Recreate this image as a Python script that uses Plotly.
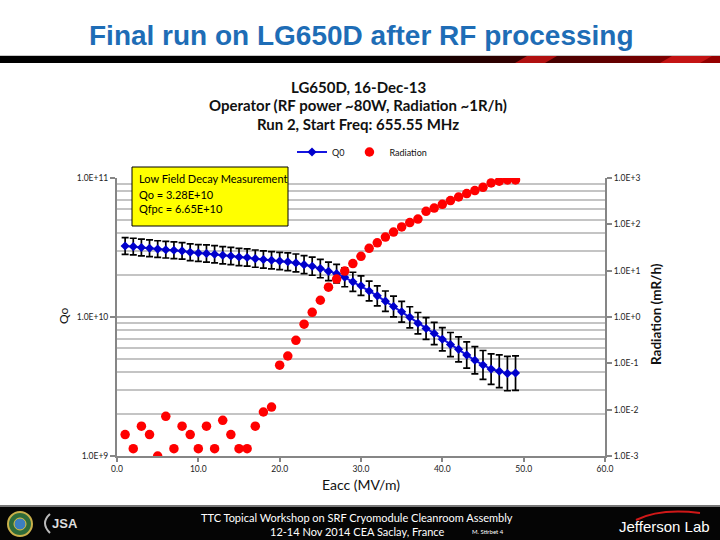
import plotly.graph_objects as go

# ---------------- data ----------------
eacc = [1, 2, 3, 4, 5, 6, 7, 8, 9, 10, 11, 12, 13, 14, 15, 16, 17, 18, 19, 20,
        21, 22, 23, 24, 25, 26, 27, 28, 29, 30, 31, 32, 33, 34, 35, 36, 37, 38, 39, 40,
        41, 42, 43, 44, 45, 46, 47, 48, 49]

q0 = [3.24e10, 3.21e10, 3.16e10, 3.12e10, 3.08e10, 3.05e10, 3.02e10, 2.99e10, 2.92e10, 2.89e10,
      2.86e10, 2.83e10, 2.78e10, 2.75e10, 2.70e10, 2.68e10, 2.63e10, 2.59e10, 2.56e10, 2.53e10,
      2.50e10, 2.45e10, 2.38e10, 2.32e10, 2.23e10, 2.13e10, 2.05e10, 1.93e10, 1.79e10, 1.68e10,
      1.54e10, 1.42e10, 1.30e10, 1.19e10, 1.09e10, 9.95e9, 9.02e9, 8.26e9, 7.60e9, 6.92e9,
      6.33e9, 5.85e9, 5.33e9, 4.88e9, 4.52e9, 4.22e9, 4.07e9, 3.92e9, 3.95e9]

# error bar half-size in decades
q0_err_dec = [0.060, 0.060, 0.060, 0.060, 0.060, 0.060, 0.060, 0.060, 0.060, 0.060,
              0.062, 0.062, 0.062, 0.062, 0.062, 0.062, 0.062, 0.062, 0.062, 0.062,
              0.064, 0.064, 0.065, 0.065, 0.066, 0.066, 0.067, 0.068, 0.069, 0.070,
              0.071, 0.072, 0.073, 0.074, 0.075, 0.076, 0.077, 0.078, 0.080, 0.084,
              0.087, 0.090, 0.094, 0.098, 0.104, 0.110, 0.118, 0.124, 0.124]

radiation = [0.0029, 0.00144, 0.0044, 0.0029, 0.0010, 0.0072, 0.00144, 0.0044, 0.0029, 0.00144,
             0.0044, 0.00144, 0.0059, 0.0029, 0.00144, 0.00144, 0.0044, 0.0089, 0.0114, 0.091,
             0.144, 0.314, 0.70, 1.26, 2.3, 4.4, 6.6, 9.8, 14.2, 20.4,
             30.4, 40.0, 53.0, 68.0, 88.0, 109.0, 130.0, 191.0, 225.0, 271.0,
             326.0, 389.0, 461.0, 535.0, 631.0, 781.0, 851.0, 906.0, 906.0]

q0_ticks = [1e9, 1e10, 1e11]
q0_ticktext = ["1.0E+9", "1.0E+10", "1.0E+11"]
rad_ticks = [1e-3, 1e-2, 1e-1, 1e0, 1e1, 1e2, 1e3]
rad_ticktext = ["1.0E-3", "1.0E-2", "1.0E-1", "1.0E+0", "1.0E+1", "1.0E+2", "1.0E+3"]
x_ticks = [0, 10, 20, 30, 40, 50, 60]

err_plus = [q * (10 ** d - 1) for q, d in zip(q0, q0_err_dec)]
err_minus = [q * (1 - 10 ** (-d)) for q, d in zip(q0, q0_err_dec)]

# ---------------- geometry helpers (pixel -> paper) ----------------
L, R, T, B = 117, 605, 178, 456
W, H = 720, 540


def px(x):
    return (x - L) / (R - L)


def py(y):
    return (B - y) / (B - T)


FONT = "Lato"
AX_GRAY = "#868686"

fig = go.Figure()

fig.add_trace(go.Scatter(
    x=eacc, y=q0, name="Q0", mode="lines+markers",
    line=dict(color="#1515E0", width=2),
    marker=dict(symbol="diamond", size=7, color="#0000CC"),
    error_y=dict(type="data", symmetric=False, array=err_plus, arrayminus=err_minus,
                 color="black", thickness=1.7, width=3.5),
    yaxis="y",
))

fig.add_trace(go.Scatter(
    x=eacc, y=radiation, name="Radiation", mode="markers",
    marker=dict(symbol="circle", size=9.5, color="#FF0000"),
    yaxis="y2",
))

shapes = []
# slide title band (black -> red)
shapes.append(dict(type="rect", xref="paper", yref="paper", x0=px(0), x1=px(W),
                   y0=py(56), y1=py(55), fillcolor="#C8C8C8", line=dict(width=0), layer="below"))
shapes.append(dict(type="rect", xref="paper", yref="paper", x0=px(0), x1=px(400),
                   y0=py(63), y1=py(56), fillcolor="#000000", line=dict(width=0), layer="below"))
n = 32
for i in range(n):
    x0 = 400 + i * (320 / n)
    x1 = x0 + 320 / n + 0.5
    t = i / (n - 1)
    r = int(0 + t * 150)
    col = "rgb(%d,%d,%d)" % (r, 0, 0)
    shapes.append(dict(type="rect", xref="paper", yref="paper", x0=px(x0), x1=px(x1),
                       y0=py(63), y1=py(56), fillcolor=col, line=dict(width=0), layer="below"))
for xa, xb, c in [(515, 545, "#B01010"), (660, 700, "#C41414")]:
    shapes.append(dict(type="path", xref="paper", yref="paper",
                       path="M %f %f L %f %f L %f %f L %f %f Z" % (
                           px(xa), py(63), px(xa + 12), py(56), px(xb + 12), py(56), px(xb), py(63)),
                       fillcolor=c, line=dict(width=0), layer="below"))

# footer
shapes.append(dict(type="rect", xref="paper", yref="paper", x0=px(0), x1=px(W),
                   y0=py(540), y1=py(506), fillcolor="#050505", line=dict(width=0), layer="below"))
shapes.append(dict(type="rect", xref="paper", yref="paper", x0=px(0), x1=px(W),
                   y0=py(507), y1=py(505), fillcolor="#777777", line=dict(width=0), layer="below"))
# DOE seal
shapes.append(dict(type="circle", xref="paper", yref="paper", x0=px(8), x1=px(32),
                   y0=py(536), y1=py(512), fillcolor="#2E6B3A", line=dict(color="#C9B04A", width=2)))
shapes.append(dict(type="circle", xref="paper", yref="paper", x0=px(14), x1=px(26),
                   y0=py(530), y1=py(518), fillcolor="#3C7FC0", line=dict(color="#E0C040", width=1)))
# JSA swoosh
shapes.append(dict(type="path", xref="paper", yref="paper",
                   path="M %f %f Q %f %f %f %f" % (px(50), py(514), px(40), py(523), px(50), py(533)),
                   line=dict(color="#BBBBBB", width=2)))
# Jefferson Lab swoosh
shapes.append(dict(type="path", xref="paper", yref="paper",
                   path="M %f %f Q %f %f %f %f" % (px(636), py(520), px(660), py(508), px(700), py(513)),
                   line=dict(color="#D01818", width=2)))

# annotation box
shapes.append(dict(type="rect", xref="paper", yref="paper", x0=px(132), x1=px(288),
                   y0=py(226), y1=py(167), fillcolor="#FFFF00", line=dict(color="black", width=1)))

annotations = []
annotations.append(dict(text="<b>Final run on LG650D after RF processing</b>", xref="paper", yref="paper",
                        x=px(361), y=py(35), xanchor="center", yanchor="middle", showarrow=False,
                        font=dict(family="Liberation Sans", size=28, color="#1E6DB6")))
for txt, yy in [("LG650D, 16-Dec-13", 87), ("Operator (RF power ~80W, Radiation ~1R/h)", 105),
                ("Run 2, Start Freq: 655.55 MHz", 124)]:
    annotations.append(dict(text="<b>" + txt + "</b>", xref="paper", yref="paper", x=px(358), y=py(yy),
                            xanchor="center", yanchor="middle", showarrow=False,
                            font=dict(family=FONT, size=15, color="#111111")))
for txt, yy in [("Low Field Decay Measurement", 178), ("Qo = 3.28E+10", 194), ("Qfpc = 6.65E+10", 208)]:
    annotations.append(dict(text=txt, xref="paper", yref="paper", x=px(137), y=py(yy),
                            xanchor="left", yanchor="middle", showarrow=False,
                            font=dict(family=FONT, size=11, color="black")))
# axis titles
annotations.append(dict(text="Eacc (MV/m)", xref="paper", yref="paper", x=px(361), y=py(484),
                        xanchor="center", yanchor="middle", showarrow=False,
                        font=dict(family=FONT, size=14, color="#111111")))
annotations.append(dict(text="Qo", xref="paper", yref="paper", x=px(63), y=py(316), textangle=-90,
                        xanchor="center", yanchor="middle", showarrow=False,
                        font=dict(family=FONT, size=12, color="#111111")))
annotations.append(dict(text="<b>Radiation (mR/h)</b>", xref="paper", yref="paper", x=px(656), y=py(314),
                        textangle=-90, xanchor="center", yanchor="middle", showarrow=False,
                        font=dict(family=FONT, size=13.5, color="#111111")))
# footer texts
annotations.append(dict(text="TTC Topical Workshop on SRF Cryomodule Cleanroom Assembly", xref="paper",
                        yref="paper", x=px(357), y=py(517), xanchor="center", yanchor="middle",
                        showarrow=False, font=dict(family=FONT, size=11, color="white")))
annotations.append(dict(text="12-14 Nov 2014 CEA Saclay, France", xref="paper",
                        yref="paper", x=px(357), y=py(531), xanchor="center", yanchor="middle",
                        showarrow=False, font=dict(family=FONT, size=11, color="white")))
annotations.append(dict(text="M. Stirbet 4", xref="paper", yref="paper", x=px(470), y=py(531),
                        xanchor="left", yanchor="middle", showarrow=False,
                        font=dict(family=FONT, size=6, color="white")))
annotations.append(dict(text="Jefferson Lab", xref="paper", yref="paper", x=px(712), y=py(526),
                        xanchor="right", yanchor="middle", showarrow=False,
                        font=dict(family="Liberation Sans", size=15, color="white")))
annotations.append(dict(text="<b>JSA</b>", xref="paper", yref="paper", x=px(50), y=py(523),
                        xanchor="left", yanchor="middle", showarrow=False,
                        font=dict(family="Liberation Sans", size=13, color="#DDDDDD")))

fig.update_layout(
    width=W, height=H,
    margin=dict(l=L, r=W - R, t=T, b=H - B, pad=0),
    paper_bgcolor="white", plot_bgcolor="white",
    font=dict(family=FONT, size=9, color="#222222"),
    showlegend=True,
    legend=dict(orientation="h", x=px(362), y=py(152), xanchor="center", yanchor="middle",
                font=dict(family=FONT, size=9, color="#111111"), itemwidth=30,
                bgcolor="rgba(0,0,0,0)"),
    xaxis=dict(range=[0, 60], tickvals=x_ticks, ticktext=["%.1f" % v for v in x_ticks],
               showgrid=False, zeroline=False, showline=True, linecolor=AX_GRAY, linewidth=2,
               ticks="outside", ticklen=4, tickcolor=AX_GRAY, tickwidth=2,
               tickfont=dict(family=FONT, size=8.5, color="#222222")),
    yaxis=dict(type="log", range=[9, 11], tickvals=q0_ticks, ticktext=q0_ticktext,
               showgrid=True, gridcolor="#A6A6A6", gridwidth=2, zeroline=False,
               showline=True, linecolor=AX_GRAY, linewidth=2,
               ticks="outside", ticklen=5, tickcolor=AX_GRAY, tickwidth=2,
               tickfont=dict(family=FONT, size=8.5, color="#222222"),
               minor=dict(dtick="D1", showgrid=True, gridcolor="#C4C4C4", gridwidth=1.6, ticks="")),
    yaxis2=dict(type="log", range=[-3, 3], tickvals=rad_ticks, ticktext=rad_ticktext,
                overlaying="y", side="right", showgrid=False, zeroline=False,
                showline=True, linecolor=AX_GRAY, linewidth=2,
                ticks="outside", ticklen=5, tickcolor=AX_GRAY, tickwidth=2,
                tickfont=dict(family=FONT, size=8.5, color="#222222")),
    shapes=shapes,
    annotations=annotations,
)

fig.write_html("out.html", config={"displayModeBar": False},
               post_script="document.body.style.margin='0px';document.body.style.overflow='hidden';")
